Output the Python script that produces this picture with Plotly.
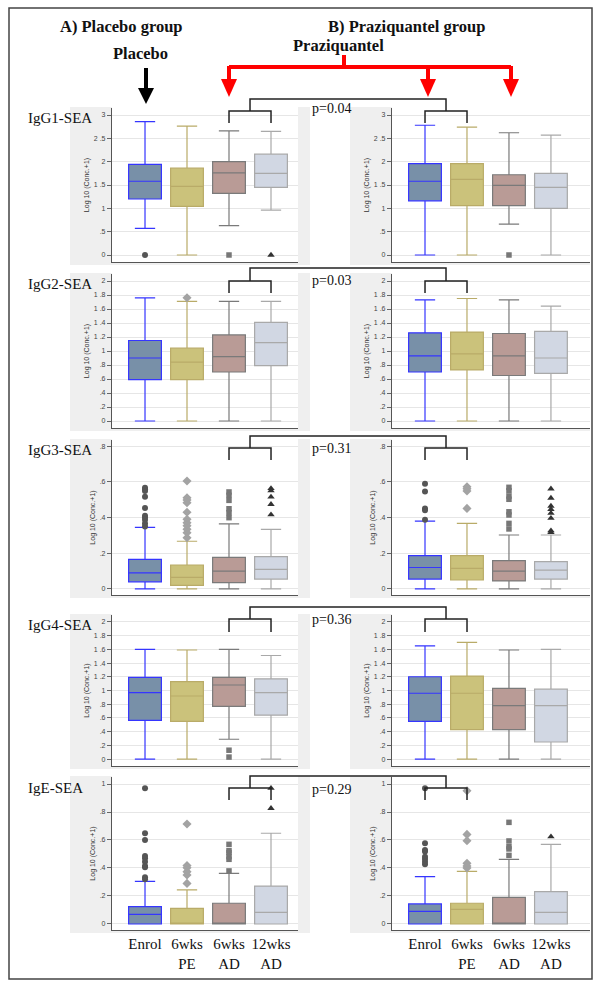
import plotly.graph_objects as go

W, H = 600, 987

# ---------------- data ----------------
timepoints = ["Enrol", "6wks<br>PE", "6wks<br>AD", "12wks<br>AD"]
positions = [1, 2, 3, 4]
antibodies = ["IgG1-SEA", "IgG2-SEA", "IgG3-SEA", "IgG4-SEA", "IgE-SEA"]
p_values = ["p=0.04", "p=0.03", "p=0.31", "p=0.36", "p=0.29"]

# box statistics per panel (lower whisker, q1, median, q3, upper whisker) for the 4 time points
igg1_placebo = {"lower": [0.57, 0.0, 0.63, 0.96], "q1": [1.20, 1.04, 1.32, 1.45],
                "median": [1.58, 1.47, 1.76, 1.75], "q3": [1.94, 1.86, 2.00, 2.16],
                "upper": [2.86, 2.76, 2.66, 2.65]}
igg1_placebo_out = [[0.0], [], [0.0], [0.0]]
igg1_pzq = {"lower": [0.0, 0.0, 0.66, 0.0], "q1": [1.16, 1.06, 1.06, 1.00],
            "median": [1.58, 1.62, 1.49, 1.45], "q3": [1.96, 1.96, 1.72, 1.75],
            "upper": [2.78, 2.74, 2.62, 2.57]}
igg1_pzq_out = [[], [], [0.0], []]

igg2_placebo = {"lower": [0.0, 0.0, 0.0, 0.0], "q1": [0.59, 0.59, 0.70, 0.79],
                "median": [0.90, 0.84, 0.92, 1.12], "q3": [1.15, 1.04, 1.23, 1.41],
                "upper": [1.76, 1.71, 1.71, 1.71]}
igg2_placebo_out = [[], [1.76], [], []]
igg2_pzq = {"lower": [0.0, 0.0, 0.0, 0.0], "q1": [0.70, 0.73, 0.65, 0.68],
            "median": [0.93, 0.96, 0.93, 0.90], "q3": [1.26, 1.27, 1.25, 1.28],
            "upper": [1.73, 1.75, 1.73, 1.64]}
igg2_pzq_out = [[], [], [], []]

igg3_placebo = {"lower": [0.0, 0.0, 0.0, 0.0], "q1": [0.04, 0.02, 0.035, 0.055],
                "median": [0.09, 0.065, 0.10, 0.11], "q3": [0.166, 0.134, 0.177, 0.181],
                "upper": [0.345, 0.267, 0.364, 0.334]}
igg3_placebo_out = [[0.567, 0.558, 0.548, 0.516, 0.453, 0.41, 0.40, 0.388, 0.367, 0.349],
                    [0.604, 0.511, 0.498, 0.483, 0.429, 0.39, 0.371, 0.354, 0.334, 0.315, 0.287],
                    [0.543, 0.524, 0.496, 0.449, 0.427, 0.399],
                    [0.563, 0.55, 0.515, 0.474, 0.416]]
igg3_pzq = {"lower": [0.0, 0.0, 0.0, 0.0], "q1": [0.055, 0.05, 0.045, 0.055],
            "median": [0.12, 0.115, 0.10, 0.105], "q3": [0.186, 0.186, 0.158, 0.153],
            "upper": [0.38, 0.367, 0.302, 0.302]}
igg3_pzq_out = [[0.589, 0.546, 0.451, 0.44, 0.388],
                [0.572, 0.561, 0.548, 0.451],
                [0.569, 0.55, 0.52, 0.502, 0.432, 0.414, 0.367, 0.336],
                [0.561, 0.509, 0.464, 0.446, 0.424, 0.396, 0.326, 0.317]]

igg4_placebo = {"lower": [0.0, 0.0, 0.29, 0.0], "q1": [0.565, 0.55, 0.77, 0.64],
                "median": [0.97, 0.92, 1.08, 0.97], "q3": [1.19, 1.13, 1.19, 1.17],
                "upper": [1.60, 1.59, 1.60, 1.51]}
igg4_placebo_out = [[], [], [0.13, 0.03], []]
igg4_pzq = {"lower": [0.0, 0.0, 0.0, 0.0], "q1": [0.55, 0.43, 0.43, 0.25],
            "median": [0.96, 0.96, 0.78, 0.78], "q3": [1.20, 1.21, 1.03, 1.02],
            "upper": [1.65, 1.70, 1.59, 1.60]}
igg4_pzq_out = [[], [], [], []]

ige_placebo = {"lower": [0.0, 0.0, 0.0, 0.0], "q1": [0.0, 0.0, 0.0, 0.0],
               "median": [0.069, 0.0, 0.0, 0.083], "q3": [0.124, 0.112, 0.148, 0.271],
               "upper": [0.305, 0.243, 0.362, 0.648]}
ige_placebo_out = [[0.97, 0.648, 0.60, 0.486, 0.469, 0.445, 0.414, 0.405, 0.333, 0.319],
                   [0.714, 0.417, 0.402, 0.374, 0.35, 0.29],
                   [0.569, 0.524, 0.51, 0.481, 0.462, 0.379],
                   [0.97, 0.826]]
ige_pzq = {"lower": [0.0, 0.0, 0.0, 0.0], "q1": [0.0, 0.0, 0.0, 0.0],
           "median": [0.09, 0.105, 0.0, 0.083], "q3": [0.143, 0.148, 0.19, 0.231],
           "upper": [0.338, 0.376, 0.462, 0.569]}
ige_pzq_out = [[0.97, 0.576, 0.529, 0.517, 0.481, 0.464, 0.445, 0.426],
               [0.952, 0.64, 0.595, 0.433, 0.414, 0.40],
               [0.726, 0.593, 0.552, 0.536, 0.49],
               [0.624]]

# tick labels
ticks_3 = [0, 0.5, 1, 1.5, 2, 2.5, 3]
ticks_3_text = ["0", ".5", "1", "1 .5", "2", "2 .5", "3"]
ticks_2 = [0, 0.2, 0.4, 0.6, 0.8, 1, 1.2, 1.4, 1.6, 1.8, 2]
ticks_2_text = ["0", ".2", ".4", ".6", ".8", "1", "1 .2", "1 .4", "1 .6", "1 .8", "2"]
ticks_08 = [0, 0.2, 0.4, 0.6, 0.8]
ticks_08_text = ["0", ".2", ".4", ".6", ".8"]
ticks_1 = [0, 0.2, 0.4, 0.6, 0.8, 1]
ticks_1_text = ["0", ".2", ".4", ".6", ".8", "1"]

# ---------------- styling / layout geometry ----------------
fills = ["#7890a8", "#cbc27b", "#b99b96", "#d1d7e3"]
lines = ["#3535ff", "#b9ab68", "#7a7a7a", "#a9a9a9"]
out_symbols = ["circle", "diamond", "square", "triangle-up"]
out_colors = ["#555555", "#a3a3a3", "#777777", "#333333"]
out_sizes = [6, 7, 5.5, 6.5]

# rows: (stats/outliers, y range, ticks, plot top px, plot bottom px)
rows = [
    (igg1_placebo, igg1_placebo_out, igg1_pzq, igg1_pzq_out, [-0.15, 3.15], ticks_3, ticks_3_text, 108, 262),
    (igg2_placebo, igg2_placebo_out, igg2_pzq, igg2_pzq_out, [-0.1, 2.1], ticks_2, ticks_2_text, 274, 428),
    (igg3_placebo, igg3_placebo_out, igg3_pzq, igg3_pzq_out, [-0.034, 0.834], ticks_08, ticks_08_text, 440, 595),
    (igg4_placebo, igg4_placebo_out, igg4_pzq, igg4_pzq_out, [-0.1, 2.1], ticks_2, ticks_2_text, 615, 766),
    (ige_placebo, ige_placebo_out, ige_pzq, ige_pzq_out, [-0.043, 1.05], ticks_1, ticks_1_text, 777, 930),
]
# bracket geometry per row: long line y, bracket top y, bracket bottom y, p-text y
brackets = [(99, 111, 123, 108), (268, 281, 293, 281), (436, 448, 460, 449),
            (607, 619, 632, 619), (776, 788, 800, 789)]

col_px = [(112, 298), (392, 590)]
x_ranges = [[0.214, 4.643], [0.214, 4.93]]
SPACING = 42.0


def px(x):
    return x / W


def py(y):
    return 1 - y / H


def data_to_px(col, xv):
    return col_px[col][0] + (xv - x_ranges[col][0]) * SPACING


fig = go.Figure()
layout = dict(width=W, height=H, margin=dict(l=0, r=0, t=0, b=0),
              paper_bgcolor="white", plot_bgcolor="rgba(0,0,0,0)",
              showlegend=False, font=dict(family="Arial", color="#333"))
shapes = []
annotations = []

for r, (s_pla, o_pla, s_pzq, o_pzq, yr, tv, tt, top, bot) in enumerate(rows):
    for c, (stats, outs) in enumerate([(s_pla, o_pla), (s_pzq, o_pzq)]):
        k = r * 2 + c + 1
        xa = "x" if k == 1 else f"x{k}"
        ya = "y" if k == 1 else f"y{k}"
        xkey = "xaxis" if k == 1 else f"xaxis{k}"
        ykey = "yaxis" if k == 1 else f"yaxis{k}"
        x0, x1 = col_px[c]
        # graph region (gray) and plot region (white)
        gx0, gx1 = (70, 310) if c == 0 else (350, 590)
        shapes.append(dict(type="rect", xref="paper", yref="paper", layer="below",
                           x0=px(gx0), x1=px(gx1), y0=py(bot + 3), y1=py(top - 1),
                           fillcolor="#efefef", line=dict(width=0)))
        shapes.append(dict(type="rect", xref="paper", yref="paper", layer="below",
                           x0=px(x0), x1=px(x1), y0=py(bot), y1=py(top - 1),
                           fillcolor="white", line=dict(width=0)))
        for i in range(4):
            fig.add_trace(go.Box(
                x=[positions[i]], q1=[stats["q1"][i]], median=[stats["median"][i]],
                q3=[stats["q3"][i]], lowerfence=[stats["lower"][i]], upperfence=[stats["upper"][i]],
                fillcolor=fills[i], line=dict(color=lines[i], width=1.2),
                width=0.78, whiskerwidth=0.62, boxpoints=False,
                xaxis=xa, yaxis=ya, hoverinfo="skip", showlegend=False))
            if outs[i]:
                fig.add_trace(go.Scatter(
                    x=[positions[i]] * len(outs[i]), y=outs[i], mode="markers",
                    marker=dict(symbol=out_symbols[i], color=out_colors[i], size=out_sizes[i]),
                    xaxis=xa, yaxis=ya, hoverinfo="skip", showlegend=False))
        bottom_row = (r == len(rows) - 1)
        layout[xkey] = dict(domain=[px(x0), px(x1)], anchor=ya, range=x_ranges[c],
                            showline=True, linecolor="#555", linewidth=1.2,
                            showgrid=False, zeroline=False, ticks="",
                            tickvals=positions, ticktext=timepoints,
                            showticklabels=bottom_row,
                            tickfont=dict(family="Liberation Serif", size=15, color="#111"))
        layout[ykey] = dict(domain=[py(bot), py(top)], anchor=xa, range=yr,
                            showline=True, linecolor="#555", linewidth=1.2,
                            showgrid=True, gridcolor="#e6e6e6", gridwidth=1, zeroline=False,
                            tickvals=tv, ticktext=tt, ticks="outside", ticklen=4,
                            tickcolor="#666", tickfont=dict(size=7, color="#444"),
                            title=dict(text="Log 10 (Conc.+1)", font=dict(size=7, color="#333"),
                                       standoff=3),
                            automargin=False)

    # antibody label
    annotations.append(dict(text=antibodies[r], xref="paper", yref="paper", x=px(26),
                            y=py(top + 10 if r != 4 else top + 11), xanchor="left", yanchor="middle",
                            showarrow=False, font=dict(family="Liberation Serif", size=15, color="#111")))
    # comparison brackets
    yl, yb, yd, yp = brackets[r]
    lx0, lx1 = data_to_px(0, 3), data_to_px(0, 4)
    rx0, rx1 = data_to_px(1, 1), data_to_px(1, 2)
    lm, rm = (lx0 + lx1) / 2, (rx0 + rx1) / 2
    path = (f"M {px(lx0)} {py(yd)} L {px(lx0)} {py(yb)} L {px(lx1)} {py(yb)} L {px(lx1)} {py(yd)} "
            f"M {px(lm)} {py(yb)} L {px(lm)} {py(yl)} L {px(rm)} {py(yl)} L {px(rm)} {py(yb)} "
            f"M {px(rx0)} {py(yd)} L {px(rx0)} {py(yb)} L {px(rx1)} {py(yb)} L {px(rx1)} {py(yd)}")
    shapes.append(dict(type="path", xref="paper", yref="paper", path=path,
                       line=dict(color="#222", width=1.5)))
    annotations.append(dict(text=p_values[r], xref="paper", yref="paper", x=px(310), y=py(yp),
                            xanchor="left", yanchor="middle", showarrow=False,
                            font=dict(family="Liberation Serif", size=14, color="#111")))

# headers
annotations += [
    dict(text="<b>A) Placebo group</b>", x=px(121), y=py(26)),
    dict(text="<b>B) Praziquantel group</b>", x=px(406), y=py(26)),
    dict(text="<b>Placebo</b>", x=px(140), y=py(53)),
    dict(text="<b>Praziquantel</b>", x=px(338), y=py(46)),
]
for a in annotations[-4:]:
    a.update(xref="paper", yref="paper", xanchor="center", yanchor="middle", showarrow=False,
             font=dict(family="Liberation Serif", size=16.5, color="#111"))

# black arrow (placebo)
shapes.append(dict(type="line", xref="paper", yref="paper", x0=px(146), x1=px(146),
                   y0=py(68), y1=py(90), line=dict(color="black", width=4)))
shapes.append(dict(type="path", xref="paper", yref="paper",
                   path=f"M {px(138)} {py(88)} L {px(154)} {py(88)} L {px(146)} {py(104)} Z",
                   fillcolor="black", line=dict(width=0)))
# red arrows (praziquantel)
red = "#ff0000"
shapes.append(dict(type="line", xref="paper", yref="paper", x0=px(229), x1=px(511),
                   y0=py(67), y1=py(67), line=dict(color=red, width=4)))
shapes.append(dict(type="line", xref="paper", yref="paper", x0=px(344), x1=px(344),
                   y0=py(55), y1=py(67), line=dict(color=red, width=4)))
for ax in [229, 428, 511]:
    shapes.append(dict(type="line", xref="paper", yref="paper", x0=px(ax), x1=px(ax),
                       y0=py(66), y1=py(80), line=dict(color=red, width=4)))
    shapes.append(dict(type="path", xref="paper", yref="paper",
                       path=f"M {px(ax - 8)} {py(79)} L {px(ax + 8)} {py(79)} L {px(ax)} {py(97)} Z",
                       fillcolor=red, line=dict(width=0)))

# outer border
shapes.append(dict(type="rect", xref="paper", yref="paper", x0=px(9), x1=px(592),
                   y0=py(979), y1=py(8), line=dict(color="#444", width=1.5)))

layout["shapes"] = shapes
layout["annotations"] = annotations
fig.update_layout(**layout)
fig.write_html("out.html", config={"displayModeBar": False},
               post_script="document.body.style.margin='0';")
